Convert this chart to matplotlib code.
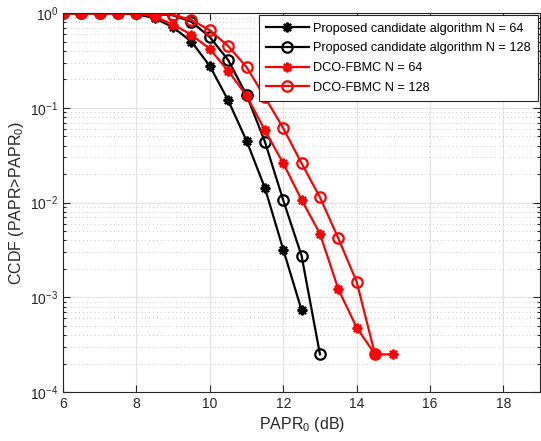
import matplotlib
matplotlib.use("Agg")
import matplotlib.pyplot as plt
from matplotlib.ticker import LogLocator, NullFormatter, FixedLocator

plt.rcParams["font.family"] = ["Liberation Sans", "DejaVu Sans"]
plt.rcParams["mathtext.fontset"] = "custom"
plt.rcParams["mathtext.rm"] = "Liberation Sans"
plt.rcParams["mathtext.it"] = "Liberation Sans:italic"

# PAPR0 grid (dB)
papr_prop64 = [6, 6.5, 7, 7.5, 8, 8.5, 9, 9.5, 10, 10.5, 11, 11.5, 12, 12.5]
papr_prop128 = [6, 6.5, 7, 7.5, 8, 8.5, 9, 9.5, 10, 10.5, 11, 11.5, 12, 12.5, 13]
papr_dco64 = [6, 6.5, 7, 7.5, 8, 8.5, 9, 9.5, 10, 10.5, 11, 11.5, 12, 12.5, 13, 13.5, 14, 14.5, 15]
papr_dco128 = [6, 6.5, 7, 7.5, 8, 8.5, 9, 9.5, 10, 10.5, 11, 11.5, 12, 12.5, 13, 13.5, 14, 14.5]

# CCDF values
ccdf_prop64 = [1, 1, 1, 1, 0.98, 0.885, 0.71, 0.50, 0.277, 0.12, 0.045, 0.0143, 0.0032, 7.3e-4]
ccdf_prop128 = [1, 1, 1, 1, 1, 0.98, 0.95, 0.81, 0.56, 0.32, 0.137, 0.044, 0.0106, 0.00274, 2.5e-4]
ccdf_dco64 = [1, 1, 1, 1, 1, 0.92, 0.76, 0.59, 0.42, 0.245, 0.135, 0.058, 0.026, 0.0107,
              0.0047, 0.00122, 4.8e-4, 2.5e-4, 2.5e-4]
ccdf_dco128 = [1, 1, 1, 1, 1, 0.99, 0.96, 0.85, 0.66, 0.45, 0.27, 0.13, 0.061, 0.026,
               0.0114, 0.0042, 0.00146, 2.5e-4]

labels = [
    "Proposed candidate algorithm N = 64",
    "Proposed candidate algorithm N = 128",
    "DCO-FBMC N = 64",
    "DCO-FBMC N = 128",
]

fig = plt.figure(figsize=(5.41, 4.41), dpi=100)
ax = fig.add_axes([0.1165, 0.111, 0.882, 0.859])

# MATLAB-like asterisk: 8 spokes, drawn thick
star = (8, 2, 0)
ax.semilogy(papr_prop64, ccdf_prop64, "-", marker=star, color="k", lw=1.6, ms=7, mew=1.6,
            label=labels[0])
ax.semilogy(papr_prop128, ccdf_prop128, "-o", color="k", lw=1.6, ms=7.5, mew=1.6,
            mfc="none", label=labels[1])
ax.semilogy(papr_dco64, ccdf_dco64, "-", marker=star, color="r", lw=1.6, ms=7, mew=1.6,
            label=labels[2])
ax.semilogy(papr_dco128, ccdf_dco128, "-o", color="r", lw=1.6, ms=7.5, mew=1.6,
            mfc="none", label=labels[3])

ax.set_xlim(6, 19)
ax.set_ylim(1e-4, 1)
ax.xaxis.set_major_locator(FixedLocator([6, 8, 10, 12, 14, 16, 18]))
ax.yaxis.set_major_locator(LogLocator(base=10, numticks=10))
ax.yaxis.set_minor_locator(LogLocator(base=10, subs=range(2, 10), numticks=10))
ax.yaxis.set_minor_formatter(NullFormatter())

ax.grid(True, which="major", color="#e3e3e3", lw=0.9, ls="-")
ax.grid(True, which="minor", axis="y", color="#c8c8c8", lw=0.7, ls=(0, (1, 3)))
ax.set_axisbelow(True)

ax.tick_params(which="both", direction="in", top=True, right=True, labelsize=10,
               colors="#262626", width=0.8)
ax.tick_params(which="major", length=5)
ax.tick_params(which="minor", length=2.5)
for s in ax.spines.values():
    s.set_color("#262626")
    s.set_linewidth(0.8)

ax.set_xlabel(r"PAPR$_{\mathrm{0}}$ (dB)", fontsize=11.5, color="#262626", labelpad=3)
ax.set_ylabel(r"CCDF (PAPR>PAPR$_{\mathrm{0}}$)", fontsize=11.5, color="#262626", labelpad=3)

leg = ax.legend(loc="upper right", fontsize=9.2, frameon=True, fancybox=False,
                framealpha=1, edgecolor="#262626", borderaxespad=0.15, handlelength=3.3,
                labelspacing=0.6, borderpad=0.6, handletextpad=0.35)
leg.get_frame().set_linewidth(0.8)
leg.set_zorder(10)

fig.savefig("out.png", dpi=100)
